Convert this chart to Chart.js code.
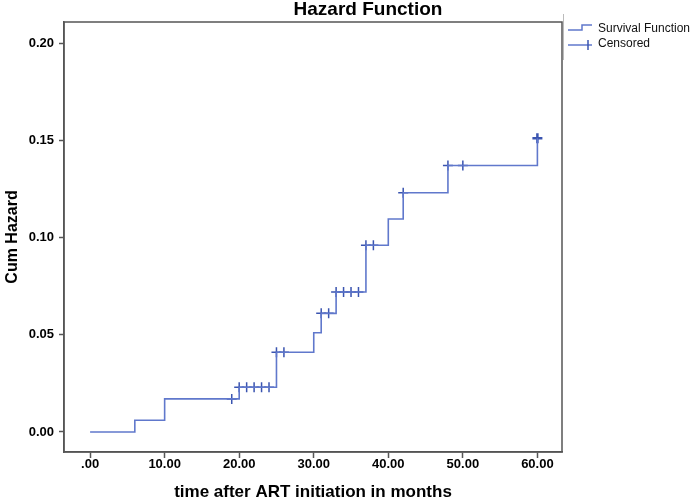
<!DOCTYPE html>
<html>
<head>
<meta charset="utf-8">
<script src="https://cdn.jsdelivr.net/npm/chart.js@4"></script>
<style>
  html, body { margin: 0; padding: 0; background: #fff; }
  #wrap { width: 696px; height: 500px; }
</style>
</head>
<body>
<div id="wrap"><canvas id="chart" width="696" height="500"></canvas></div>
<script>
// step points of the cumulative hazard (time in months, cum hazard)
const STEP_TIMES = [0, 6, 10, 20, 25, 30, 31, 33, 37, 40, 42, 48, 60];
const STEP_HAZARD = [0, 0.006, 0.017, 0.023, 0.041, 0.051, 0.061, 0.072, 0.096, 0.1095, 0.123, 0.137, 0.151];

// censored observations
const CENS_TIMES = [19, 20, 21, 22, 23, 24, 25, 26, 31, 32, 33, 34, 35, 36, 37, 38, 42, 48, 50, 60];
const CENS_HAZARD = [0.017, 0.023, 0.023, 0.023, 0.023, 0.023, 0.041, 0.041, 0.061, 0.061,
                     0.072, 0.072, 0.072, 0.072, 0.096, 0.096, 0.123, 0.137, 0.137, 0.151];

const X_TICKS = [0, 10, 20, 30, 40, 50, 60];
const Y_TICKS = [0, 0.05, 0.10, 0.15, 0.20];

const TITLE = 'Hazard Function';
const X_TITLE = 'time after ART initiation in months';
const Y_TITLE = 'Cum Hazard';
const LEGEND_LABELS = ['Survival Function', 'Censored'];

const LINE_COLOR = 'rgb(96,120,204)';
const MARK_COLOR = 'rgb(58,84,176)';
const AXIS_COLOR = '#555';
const FONT = '"Liberation Sans", Arial, sans-serif';

const stepData = STEP_TIMES.map((t, i) => ({x: t, y: STEP_HAZARD[i]}));
const censData = CENS_TIMES.map((t, i) => ({x: t, y: CENS_HAZARD[i]}));

// frame, titles and the SPSS-like legend
const decor = {
    id: 'decor',
    afterDraw(chart) {
        const {ctx, chartArea: a} = chart;
        ctx.save();
        ctx.strokeStyle = AXIS_COLOR;
        ctx.lineWidth = 1.5;
        ctx.strokeRect(a.left, a.top, a.right - a.left, a.bottom - a.top);

        ctx.fillStyle = '#000';
        ctx.textAlign = 'center';
        ctx.textBaseline = 'middle';
        ctx.font = 'bold 19px ' + FONT;
        ctx.fillText(TITLE, 368, 10);

        ctx.font = 'bold 17px ' + FONT;
        ctx.fillText(X_TITLE, (a.left + a.right) / 2, 492);

        ctx.save();
        ctx.translate(13, (a.top + a.bottom) / 2);
        ctx.rotate(-Math.PI / 2);
        ctx.font = 'bold 16px ' + FONT;
        ctx.fillText(Y_TITLE, 0, 0);
        ctx.restore();

        // legend
        const lx = 568;
        ctx.strokeStyle = '#bbb';
        ctx.lineWidth = 1;
        ctx.beginPath();
        ctx.moveTo(563.5, 14);
        ctx.lineTo(563.5, 60);
        ctx.stroke();

        ctx.strokeStyle = LINE_COLOR;
        ctx.lineWidth = 1.5;
        ctx.beginPath();
        ctx.moveTo(lx, 30);
        ctx.lineTo(lx + 14, 30);
        ctx.lineTo(lx + 14, 25);
        ctx.lineTo(lx + 24, 25);
        ctx.stroke();

        ctx.beginPath();
        ctx.moveTo(lx, 45);
        ctx.lineTo(lx + 24, 45);
        ctx.stroke();
        ctx.strokeStyle = MARK_COLOR;
        ctx.beginPath();
        ctx.moveTo(lx + 20, 40);
        ctx.lineTo(lx + 20, 50);
        ctx.stroke();

        ctx.fillStyle = '#111';
        ctx.textAlign = 'left';
        ctx.font = '12px ' + FONT;
        ctx.fillText(LEGEND_LABELS[0], 598, 29);
        ctx.fillText(LEGEND_LABELS[1], 598, 44);
        ctx.restore();
    }
};

new Chart(document.getElementById('chart'), {
    type: 'scatter',
    data: {
        datasets: [
            {
                label: LEGEND_LABELS[0],
                data: stepData,
                showLine: true,
                stepped: true,
                borderColor: LINE_COLOR,
                borderWidth: 1.6,
                pointRadius: 0,
            },
            {
                label: LEGEND_LABELS[1],
                data: censData,
                showLine: false,
                pointStyle: 'cross',
                pointRadius: 5,
                borderColor: MARK_COLOR,
                pointBorderWidth: (c) => c.dataIndex === CENS_TIMES.length - 1 ? 2.5 : 1.5,
            },
        ]
    },
    options: {
        responsive: false,
        animation: false,
        layout: {padding: {left: 0, right: 134, top: 22, bottom: 0}},
        plugins: {
            legend: {display: false},
            tooltip: {enabled: false},
        },
        scales: {
            x: {
                type: 'linear',
                min: -3.5,
                max: 63.3,
                afterBuildTicks: (s) => { s.ticks = X_TICKS.map(v => ({value: v})); },
                afterFit: (s) => { s.height = 48; },
                grid: {drawOnChartArea: false, tickLength: 6, tickColor: AXIS_COLOR, tickWidth: 1.5},
                border: {color: AXIS_COLOR, width: 1.5},
                ticks: {
                    color: '#000',
                    padding: -1,
                    maxRotation: 0,
                    font: {family: FONT, size: 13, weight: 'bold'},
                    callback: (v) => v === 0 ? '.00' : v.toFixed(2),
                },
            },
            y: {
                type: 'linear',
                min: -0.0103,
                max: 0.2108,
                afterBuildTicks: (s) => { s.ticks = Y_TICKS.map(v => ({value: v})); },
                afterFit: (s) => { s.width = 64; },
                grid: {drawOnChartArea: false, tickLength: 5, tickColor: AXIS_COLOR, tickWidth: 1.5},
                border: {color: AXIS_COLOR, width: 1.5},
                ticks: {
                    color: '#000',
                    padding: 5,
                    font: {family: FONT, size: 13, weight: 'bold'},
                    callback: (v) => v.toFixed(2),
                },
            },
        },
    },
    plugins: [decor],
});
</script>
</body>
</html>
